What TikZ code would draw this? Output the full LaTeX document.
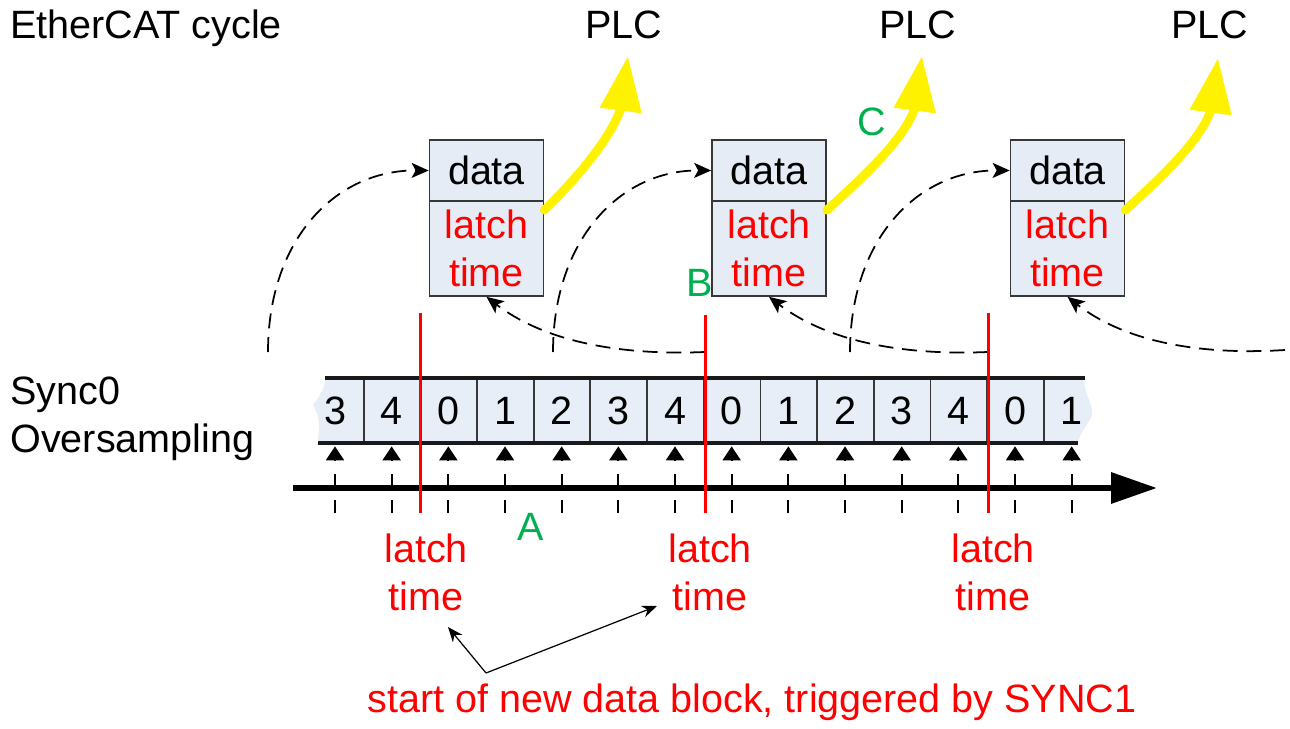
\documentclass[tikz,border=0pt]{standalone}
\usepackage{fontspec}
\setmainfont{Liberation Sans}
\usetikzlibrary{arrows.meta}
\definecolor{boxblue}{RGB}{230,236,246}
\definecolor{stripblue}{RGB}{232,238,247}
\definecolor{grn}{RGB}{0,176,80}
\definecolor{bordergray}{RGB}{55,55,55}
\begin{document}
\begin{tikzpicture}[x=0.02cm,y=-0.02cm,
  font=\fontsize{22.5}{27.3}\selectfont,
  every node/.style={inner sep=0pt},
  datab/.style={draw=bordergray, fill=boxblue, line width=1pt, minimum width=2.28cm, minimum height=1.22cm},
  latchb/.style={draw=bordergray, fill=boxblue, line width=1pt, minimum width=2.28cm, minimum height=1.9cm, text=red, align=center},
  cell/.style={minimum width=1.134cm, minimum height=1.3cm},
  sepline/.style={draw=bordergray, line width=1pt},
  stripline/.style={line width=2pt, draw=black!90},
  redline/.style={red, line width=1.7pt},
  tickarrow/.style={line width=1.1pt, dash pattern=on 7.4pt off 7.4pt, -{Triangle[length=0.28cm,width=0.36cm]}},
  loop/.style={line width=1pt, dash pattern=on 8.5pt off 5pt, -{Stealth[length=0.34cm,width=0.3cm,inset=0.08cm]}},
  yarrow/.style={yellow, line width=5pt, line cap=round, line join=round, -{Triangle[length=1.1cm,width=0.8cm]}},
  axisline/.style={line width=3.6pt, -{Triangle[length=0.92cm,width=0.6cm]}},
  lbl/.style={text=red, align=center},
  glbl/.style={text=grn},
  note/.style={line width=0.7pt, -{Stealth[length=0.3cm,width=0.24cm]}}
]
\useasboundingbox (0,0) rectangle (1290,729);

% left labels
\node[anchor=base west] (ecat) at (10,39) {EtherCAT cycle};
\node[anchor=base west] (sync) at (10,404) {Sync0};
\node[anchor=base west] (overs) at (10,452) {Oversampling};

% PLC labels
\node[anchor=base] (plc1) at (624,39) {PLC};
\node[anchor=base] (plc2) at (918,39) {PLC};
\node[anchor=base] (plc3) at (1210,39) {PLC};

% boxes
\node[datab] (d1) at (486.5,170.5) {data};
\node[latchb] (l1) at (486.5,248.5) {latch\\time};
\node[datab] (d2) at (769,170.5) {data};
\node[latchb] (l2) at (769,248.5) {latch\\time};
\node[datab] (d3) at (1067.5,170.5) {data};
\node[latchb] (l3) at (1067.5,248.5) {latch\\time};

% yellow arrows to PLC
\coordinate (p1) at (628,56);
\coordinate (p2) at (922,56);
\coordinate (p3) at (1218,58);
\draw[yarrow] ([yshift=-0.2cm]l1.north east) .. controls (575,180) and (610,140) .. (621,108) -- (p1);
\draw[yarrow] ([yshift=-0.2cm]l2.north east) .. controls (860,180) and (904,140) .. (915,108) -- (p2);
\draw[yarrow] ([yshift=-0.2cm]l3.north east) .. controls (1158,180) and (1200,142) .. (1211,110) -- (p3);

% dashed loops
\coordinate (u1) at (268,352);
\coordinate (u2) at (553,352);
\coordinate (u3) at (850,352);
\coordinate (v1) at (705,352);
\coordinate (v2) at (988,352);
\coordinate (v3) at (1285,350);
\draw[loop] (u1) .. controls (268,240) and (335,170) .. (d1.west);
\draw[loop] (u2) .. controls (553,240) and (620,170) .. (d2.west);
\draw[loop] (u3) .. controls (850,240) and (917,170) .. (d3.west);
\draw[loop] (v1) .. controls (610,356) and (540,338) .. (l1.south);
\draw[loop] (v2) .. controls (893,356) and (823,338) .. (l2.south);
\draw[loop] (v3) .. controls (1190,356) and (1120,338) .. (l3.south);

% strip
\fill[stripblue] (325,378) -- (1084,378) .. controls (1084,395) and (1094,405) .. (1092,415)
  .. controls (1088,425) and (1080,432) .. (1078,443) -- (318,443)
  .. controls (318,430) and (322,420) .. (313,405) .. controls (320,395) and (325,390) .. (325,378) -- cycle;
\foreach \d [count=\i] in {3,4,0,1,2,3,4,0,1,2,3,4,0,1}
  \node[cell] (c\i) at ({335+56.667*(\i-1)},410.5) {\d};
\foreach \i in {1,...,13}
  \draw[sepline] (c\i.north east) -- (c\i.south east);
\coordinate (s1) at (325,378);
\coordinate (s2) at (1085,378);
\coordinate (s3) at (318,443);
\coordinate (s4) at (1078,443);
\draw[stripline] (s1) -- (s2);
\draw[stripline] (s3) -- (s4);

% ticks
\foreach \i in {1,...,14} {
  \coordinate (t\i) at ({335+56.667*(\i-1)},513);
  \draw[tickarrow] (t\i) -- ([yshift=-0.06cm]c\i.south);
}

% time axis
\coordinate (a0) at (293,488);
\coordinate (a1) at (1157,488);
\draw[axisline] (a0) -- (a1);

% red latch lines
\coordinate (r1a) at (420,313); \coordinate (r1b) at (420,513);
\coordinate (r2a) at (705,315); \coordinate (r2b) at (705,513);
\coordinate (r3a) at (988,313); \coordinate (r3b) at (988,513);
\draw[redline] (r1a) -- (r1b);
\draw[redline] (r2a) -- (r2b);
\draw[redline] (r3a) -- (r3b);

% bottom latch labels
\node[lbl] (lt1) at (426,572) {latch\\time};
\node[lbl] (lt2) at (710,572) {latch\\time};
\node[lbl] (lt3) at (993,572) {latch\\time};

% green markers
\node[glbl] (ma) at (531,527) {A};
\node[glbl] (mb) at (700,283) {B};
\node[glbl] (mc) at (872,122) {C};

% note
\node[lbl] (nt) at (752,702) {start of new data block, triggered by SYNC1};
\coordinate (k) at (486,673);
\coordinate (k1) at (448,627);
\coordinate (k2) at (657,606);
\draw[note] (k) -- (k1);
\draw[note] (k) -- (k2);
\end{tikzpicture}
\end{document}
